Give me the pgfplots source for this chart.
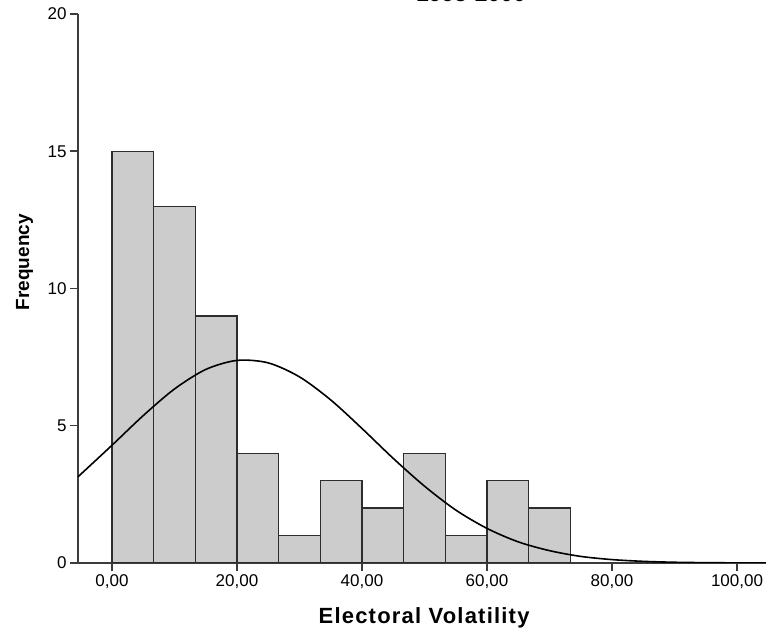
\documentclass[border=0pt]{standalone}
\usepackage{pgfplots}
\pgfplotsset{compat=1.18}
\usepackage{fontspec}
\setmainfont{Liberation Sans}
\definecolor{barfill}{RGB}{204,204,204}
\definecolor{edge}{RGB}{45,45,45}
\definecolor{axline}{RGB}{60,60,60}
\begin{document}
\begin{tikzpicture}[x=1pt,y=1pt]
\begin{axis}[
  at={(78pt,69pt)}, anchor=south west,
  scale only axis, width=688pt, height=549pt,
  xmin=-5.44, xmax=104.64, ymin=0, ymax=20,
  axis x line=bottom, axis y line=left,
  axis line style={-, draw=axline, line width=1.8pt},
  xtick={0,20,40,60,80,100},
  xticklabels={{0,00},{20,00},{40,00},{60,00},{80,00},{100,00}},
  ytick={0,5,10,15,20},
  yticklabels={0,5,10,15,20},
  tick align=outside, major tick length=8pt,
  tick style={draw=axline, line width=1.5pt},
  ticklabel style={font=\fontsize{17}{17}\selectfont, text=black},
  xlabel={Electoral Volatility}, ylabel={Frequency},
  every axis x label/.style={at={(axis description cs:0.503,-0.1093)}, anchor=base, font=\bfseries\fontsize{22}{22}\selectfont\addfontfeature{LetterSpace=5.5}},
  every axis y label/.style={at={(axis description cs:-0.0712,0.548)}, rotate=90, anchor=base, font=\bfseries\fontsize{19}{19}\selectfont},
]
\addplot[ybar interval, fill=barfill, draw=edge, line width=1.2pt] coordinates {
(0,15) (6.667,13) (13.333,9) (20,4) (26.667,1) (33.333,3) (40,2) (46.667,4) (53.333,1) (60,3) (66.667,2) (73.333,2)};
\addplot[black, line width=1.6pt, smooth] coordinates {
(-5.44,3.14) (0,4.29) (5,5.37) (10,6.34) (15,7.05) (20,7.38) (25,7.29) (30,6.78) (35,5.94) (40,4.90) (45,3.81) (50,2.80) (55,1.93) (60,1.26) (65,0.77) (70,0.45) (75,0.24) (80,0.124) (85,0.060) (90,0.027) (95,0.012) (100,0.005) (104.64,0.002)};
\end{axis}
\node[font=\bfseries\fontsize{23}{23}\selectfont, anchor=base] at (471pt,630pt) {1995-2000};
\pgfresetboundingbox
\path[use as bounding box] (0,0) rectangle (766pt,632pt);
\end{tikzpicture}
\end{document}
